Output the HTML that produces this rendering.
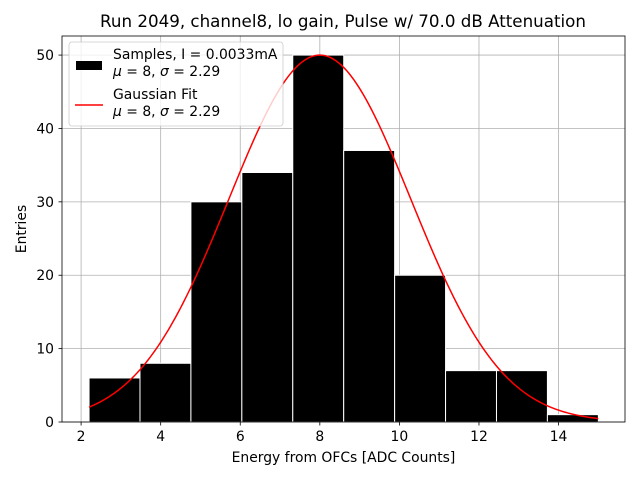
<!DOCTYPE html>
<html><head><meta charset="utf-8"><style>
body{margin:0;background:#fff;}
svg{display:block;font-family:"DejaVu Sans","Liberation Sans",sans-serif;}
</style></head><body>
<svg id="c" width="640" height="480" viewBox="0 0 640 480" xmlns="http://www.w3.org/2000/svg">
<text x="343" y="27" font-size="16.7" text-anchor="middle">Run 2049, channel8, lo gain, Pulse w/ 70.0 dB Attenuation</text>
<g id="grid"></g>
<g id="bars"></g>
<g id="curve"></g>
<g id="axes"></g>
</svg>
<script>
const binEdges = [2.2, 3.48, 4.76, 6.04, 7.32, 8.6, 9.88, 11.16, 12.44, 13.72, 15.0];
const counts = [6, 8, 30, 34, 50, 37, 20, 7, 7, 1];
const xTicks = [2, 4, 6, 8, 10, 12, 14];
const yTicks = [0, 10, 20, 30, 40, 50];
const fitMu = [8];
const fitSigma = [2.29];
const fitAmp = [50];

const L=62,R=625,T=36,B=422;
const xMin=1.52,xMax=15.67,yMin=0,yMax=52.6;
const X=v=>L+(v-xMin)/(xMax-xMin)*(R-L);
const Y=v=>B-(v-yMin)/(yMax-yMin)*(B-T);
const NS="http://www.w3.org/2000/svg";
function mk(tag,attrs,parent){const e=document.createElementNS(NS,tag);for(const k in attrs)e.setAttribute(k,attrs[k]);parent.appendChild(e);return e;}
const grid=document.getElementById('grid'),bars=document.getElementById('bars'),curve=document.getElementById('curve'),axes=document.getElementById('axes');

xTicks.forEach(t=>{
  const g=mk('line',{x1:X(t),x2:X(t),y1:T,y2:B,stroke:'#b0b0b0','stroke-width':0.8},grid);
  
  
  mk('line',{x1:X(t),x2:X(t),y1:B,y2:B+3.5,stroke:'#000','stroke-width':0.8},axes);
  const tx=mk('text',{x:X(t),y:B+19,'font-size':13.9,'text-anchor':'middle'},axes);
  tx.textContent=t;
  
  
});
yTicks.forEach(t=>{
  const g=mk('line',{x1:L,x2:R,y1:Y(t),y2:Y(t),stroke:'#b0b0b0','stroke-width':0.8},grid);
  
  
  mk('line',{x1:L-3.5,x2:L,y1:Y(t),y2:Y(t),stroke:'#000','stroke-width':0.8},axes);
  const tx=mk('text',{x:L-8,y:Y(t)+5,'font-size':13.9,'text-anchor':'end'},axes);
  tx.textContent=t;
  
  
});
counts.forEach((c,i)=>{
  const x0=X(binEdges[i]),x1=X(binEdges[i+1]);
  const r=mk('rect',{x:x0,y:Y(c),width:x1-x0,height:B-Y(c),fill:'#000',stroke:'#fff','stroke-width':1},bars);
  
  
});
let d='';
const a=binEdges[0],b=binEdges[binEdges.length-1];
for(let k=0;k<=200;k++){const v=a+(b-a)*k/200;const y=fitAmp[0]*Math.exp(-Math.pow(v-fitMu[0],2)/(2*fitSigma[0]*fitSigma[0]));d+=(k?'L':'M')+X(v).toFixed(2)+','+Y(y).toFixed(2);}
const p=mk('path',{d:d,fill:'none',stroke:'#f00','stroke-width':1.5},curve);



const fr=mk('rect',{x:L,y:T,width:R-L,height:B-T,fill:'none',stroke:'#000','stroke-width':0.8},axes);


const xl=mk('text',{x:(L+R)/2,y:462,'font-size':13.9,'text-anchor':'middle'},axes);
xl.textContent='Energy from OFCs [ADC Counts]';


const yl=mk('text',{x:26,y:(T+B)/2,'font-size':13.9,'text-anchor':'middle',transform:'rotate(-90 26 '+((T+B)/2)+')'},axes);
yl.textContent='Entries';



const lg=mk('g',{},axes);


mk('rect',{x:69,y:42,width:214,height:84,rx:3,fill:'#fff','fill-opacity':0.8,stroke:'#ccc','stroke-width':0.8},lg);
mk('rect',{x:76,y:61,width:26,height:9,fill:'#000'},lg);
mk('line',{x1:75,x2:103,y1:105,y2:105,stroke:'#f00','stroke-width':1.5},lg);
[['Samples, I = 0.0033mA',59,false],['μ = 8, σ = 2.29',76,true],['Gaussian Fit',99,false],['μ = 8, σ = 2.29',116,true]].forEach(([s,y,m])=>{
  const t=mk('text',{x:113,y:y,'font-size':13.9},lg);
  if(m){
    t.innerHTML='<tspan font-style="italic">μ</tspan> = 8, <tspan font-style="italic">σ</tspan> = 2.29';
  } else t.textContent=s;
  
  
});
</script>
</body></html>
